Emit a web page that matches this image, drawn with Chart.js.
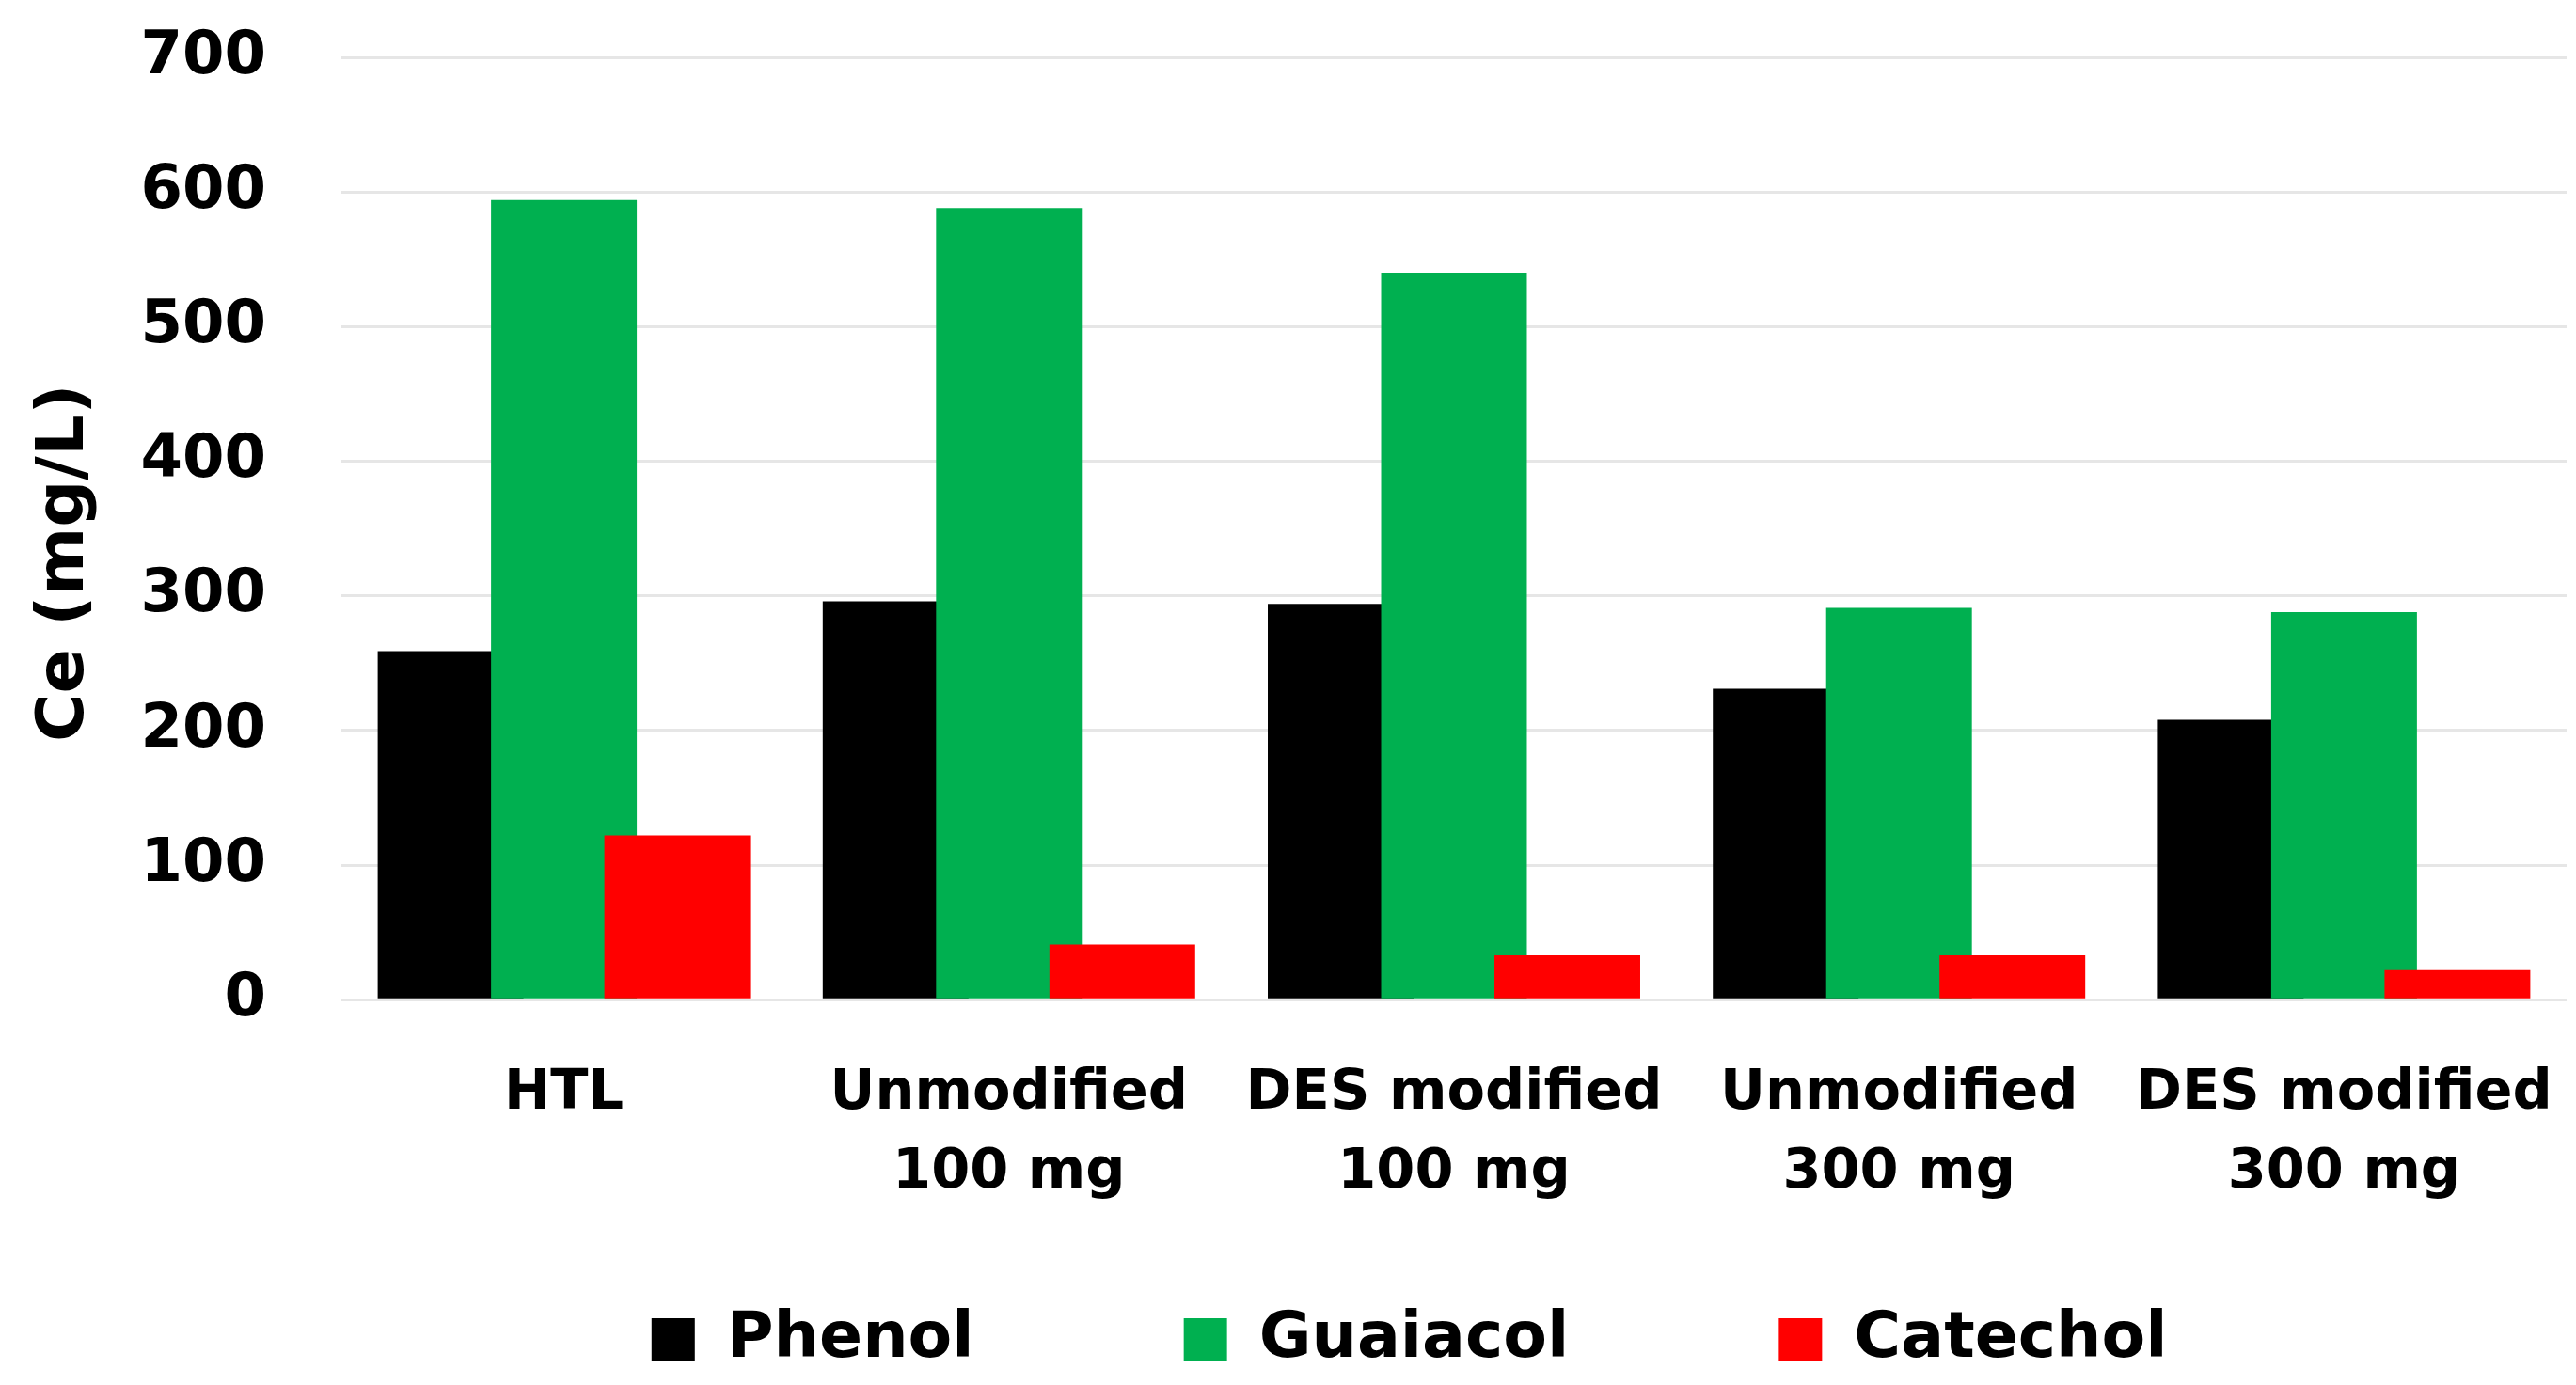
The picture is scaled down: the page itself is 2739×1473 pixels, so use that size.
<!DOCTYPE html>
<html>
<head>
<meta charset="utf-8">
<script src="https://cdn.jsdelivr.net/npm/chart.js@4.4.1/dist/chart.umd.min.js"></script>
<style>
  html, body { margin: 0; padding: 0; background: #ffffff; }
  #wrap { width: 2739px; height: 1473px; position: relative; }
</style>
</head>
<body>
<div id="wrap"><canvas id="chartCe"></canvas></div>
<script>
const categorias = [
    ['HTL'],
    ['Unmodified', '100 mg'],
    ['DES modified', '100 mg'],
    ['Unmodified', '300 mg'],
    ['DES modified', '300 mg']
];
const phenol = [259, 296, 294, 231, 208];
const guaiacol = [594, 588, 540, 291, 288];
const catechol = [122, 41, 33, 33, 22];
const yTicks = [0, 100, 200, 300, 400, 500, 600, 700];

Chart.defaults.font.family = 'DejaVu Sans';
Chart.defaults.font.weight = 'bold';
Chart.defaults.color = '#000000';

// Excel-style overlap: later series are drawn on top of the earlier ones
const ordenDibujo = {
    id: 'ordenDibujo',
    beforeDatasetsDraw(chart) {
        chart.data.datasets.forEach((ds, i) => {
            const meta = chart.getDatasetMeta(i);
            if (!meta.hidden) meta.controller.draw();
        });
        return false;
    }
};

const ctx = document.getElementById('chartCe').getContext('2d');

const chartCe = new Chart(ctx, {
    type: 'bar',
    data: {
        labels: categorias,
        datasets: [
            { label: 'Phenol', data: phenol, backgroundColor: '#000000' },
            { label: 'Guaiacol', data: guaiacol, backgroundColor: '#00B050' },
            { label: 'Catechol', data: catechol, backgroundColor: '#FF0000' }
        ]
    },
    options: {
        responsive: true,
        maintainAspectRatio: false,
        animation: false,
        categoryPercentage: 0.764,
        barPercentage: 1.286,
        layout: { padding: { top: 61, right: 10, bottom: 4, left: 0 } },
        plugins: {
            tooltip: { enabled: false },
            legend: {
                position: 'bottom',
                fullSize: false,
                labels: {
                    font: { size: 68, weight: 'bold' },
                    boxWidth: 46,
                    boxHeight: 46,
                    padding: 10,
                    generateLabels(chart) {
                        const items = Chart.defaults.plugins.legend.labels.generateLabels(chart);
                        items.forEach((it, i) => {
                            it.lineWidth = 0;
                            it.text = it.text + (i < items.length - 1 ? '         ' : '    ');
                        });
                        return items;
                    }
                }
            }
        },
        scales: {
            x: {
                grid: { display: false },
                border: { display: false },
                ticks: {
                    font: { size: 59, weight: 'bold', lineHeight: 1.43 },
                    padding: 50,
                    maxRotation: 0,
                    autoSkip: false
                },
                afterFit(scale) {
                    scale.height += 41;
                    scale.paddingLeft = 0;
                    scale.paddingRight = 0;
                }
            },
            y: {
                min: 0,
                max: 700,
                afterBuildTicks(scale) { scale.ticks = yTicks.map(v => ({ value: v })); },
                afterFit(scale) {
                    scale.width = 363;
                    scale.paddingTop = 38;
                },
                grid: { color: '#E6E6E6', lineWidth: 3, drawTicks: false },
                border: { display: false },
                ticks: {
                    font: { size: 64, weight: 'bold', lineHeight: 1.2 },
                    padding: 80
                },
                title: {
                    display: true,
                    text: 'Ce (mg/L)   ',
                    font: { size: 70, weight: 'bold', lineHeight: 1.2 },
                    padding: { top: 28, bottom: 20 }
                }
            }
        }
    },
    plugins: [ordenDibujo]
});
</script>
</body>
</html>
